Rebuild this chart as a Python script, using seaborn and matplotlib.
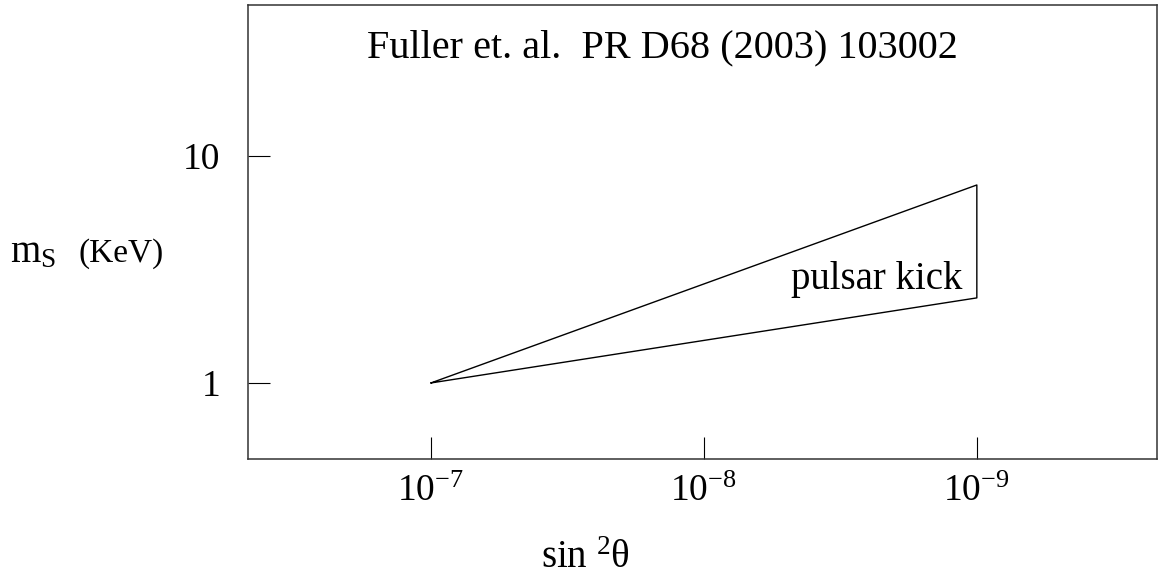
import matplotlib
matplotlib.use("Agg")
import matplotlib.pyplot as plt
import seaborn as sns
import numpy as np

# triangle outline of the pulsar kick region (closed)
sin2theta = [1e-7, 1e-9, 1e-9, 1e-7]
mass_kev = [1.0, 7.45, 2.37, 1.0]

xticks = [1e-7, 1e-8, 1e-9]
xticklabels = [r'$10^{-7}$', r'$10^{-8}$', r'$10^{-9}$']
yticks = [1, 10]
yticklabels = ['1', '10']

sns.set_theme(style='white')
plt.rcParams['font.family'] = ['Liberation Serif', 'DejaVu Serif']
plt.rcParams['mathtext.fontset'] = 'custom'
plt.rcParams['mathtext.rm'] = 'Liberation Serif'
plt.rcParams['mathtext.it'] = 'Liberation Serif:italic'
plt.rcParams['mathtext.bf'] = 'Liberation Serif:bold'

fig = plt.figure(figsize=(11.6, 5.79), dpi=100)
ax = fig.add_axes([248/1160, 120/579, 909/1160, 454/579])

sns.lineplot(x=sin2theta, y=mass_kev, sort=False, estimator=None,
             color='black', lw=1.0, ax=ax)

ax.set_xscale('log')
ax.set_yscale('log')
ax.set_xlim(10**-6.33, 10**-9.66)
ax.set_ylim(10**-0.335, 10**1.665)
ax.minorticks_off()
ax.set_xticks(xticks)
ax.set_xticklabels(xticklabels)
ax.set_yticks(yticks)
ax.set_yticklabels(yticklabels)
ax.tick_params(axis='both', which='major', bottom=True, left=True,
               direction='in', length=16, width=0.8,
               color='black', labelsize=27, labelcolor='black')
ax.tick_params(axis='x', pad=11)
ax.tick_params(axis='y', pad=20)
for s in ax.spines.values():
    s.set_color('#333333')
    s.set_linewidth(1.1)

fig.text(662/1160, 1 - 57/579, 'Fuller et. al.  PR D68 (2003) 103002',
         ha='center', va='baseline', fontsize=29, color='black')
fig.text(962/1160, 1 - 289/579, 'pulsar kick',
         ha='right', va='baseline', fontsize=28, color='black')

fig.text(10/1160, 1 - 262/579, r'$\mathrm{m}_{\mathrm{S}}$',
         ha='left', va='baseline', fontsize=28, color='black')
fig.text(79/1160, 1 - 262/579, '(KeV)',
         ha='left', va='baseline', fontsize=24, color='black')
fig.text(585/1160, 1 - 568/579, r'sin $^{2}$θ',
         ha='center', va='baseline', fontsize=28, color='black')

fig.savefig('out.png', dpi=100)
